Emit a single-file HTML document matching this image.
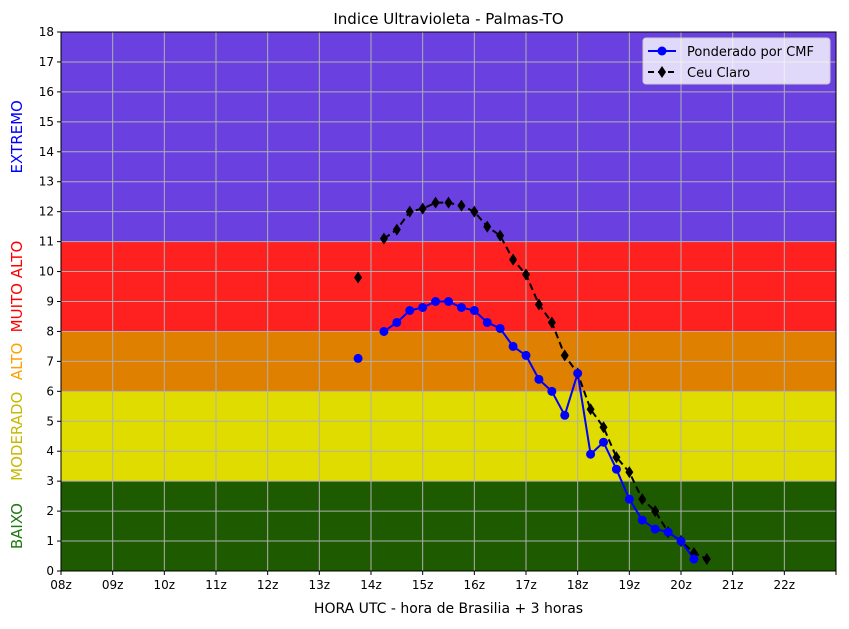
<!DOCTYPE html>
<html><head><meta charset="utf-8"><style>
body{margin:0;background:#fff;font-family:"DejaVu Sans","Liberation Sans",sans-serif;}
</style></head><body>
<svg id="c" width="849" height="625" xmlns="http://www.w3.org/2000/svg"></svg>
<script>
const hourLabels=["08z","09z","10z","11z","12z","13z","14z","15z","16z","17z","18z","19z","20z","21z","22z",""];
const yTicks=[0,1,2,3,4,5,6,7,8,9,10,11,12,13,14,15,16,17,18];
const bands=[[0,3,"#1e5a00"],[3,6,"#e0dc00"],[6,8,"#e08000"],[8,11,"#ff2020"],[11,18,"#6a40e0"]];
const bandLabels=[["BAIXO",1.5,"#1e7a10"],["MODERADO",4.5,"#c8b800"],["ALTO",7,"#ffa000"],["MUITO ALTO",9.5,"#ff0000"],["EXTREMO",14.5,"#0000ff"]];
const cmfTimes=[13.75,null,14.25,14.5,14.75,15,15.25,15.5,15.75,16,16.25,16.5,16.75,17,17.25,17.5,17.75,18,18.25,18.5,18.75,19,19.25,19.5,19.75,20,20.25];
const cmfValues=[7.1,null,8.0,8.3,8.7,8.8,9.0,9.0,8.8,8.7,8.3,8.1,7.5,7.2,6.4,6.0,5.2,6.6,3.9,4.3,3.4,2.4,1.7,1.4,1.3,1.0,0.4];
const clearTimes=[13.75,null,14.25,14.5,14.75,15,15.25,15.5,15.75,16,16.25,16.5,16.75,17,17.25,17.5,17.75,18,18.25,18.5,18.75,19,19.25,19.5,19.75,20,20.25,20.5];
const clearValues=[9.8,null,11.1,11.4,12.0,12.1,12.3,12.3,12.2,12.0,11.5,11.2,10.4,9.9,8.9,8.3,7.2,6.6,5.4,4.8,3.8,3.3,2.4,2.0,1.3,1.0,0.6,0.4];

const L=61,R=836,T=32,B=571,NS="http://www.w3.org/2000/svg";
const X=h=>L+(h-8)*(R-L)/15, Y=v=>B-v*(B-T)/18;
const svg=document.getElementById('c');
function el(t,a,txt){const e=document.createElementNS(NS,t);for(const k in a)e.setAttribute(k,a[k]);if(txt!=null)e.textContent=txt;svg.appendChild(e);return e;}

bands.forEach(b=>{const e=el('rect',{x:L,y:Y(b[1]),width:R-L,height:Y(b[0])-Y(b[1]),fill:b[2]});

});
hourLabels.forEach((l,i)=>{const x=X(8+i);
const g=el('line',{x1:x,x2:x,y1:T,y2:B,stroke:'#b0b0b0','stroke-width':1});


el('line',{x1:x,x2:x,y1:B,y2:B+4,stroke:'#000'});
const t=el('text',{x:x,y:B+18,'font-size':12,'text-anchor':'middle'},l);

});
yTicks.forEach(v=>{const y=Y(v);
const g=el('line',{x1:L,x2:R,y1:y,y2:y,stroke:'#b0b0b0','stroke-width':1});


el('line',{x1:L-4,x2:L,y1:y,y2:y,stroke:'#000'});
const t=el('text',{x:L-7,y:y+4,'font-size':12,'text-anchor':'end'},v);

});
el('rect',{x:L,y:T,width:R-L,height:B-T,fill:'none',stroke:'#000','stroke-width':1});

bandLabels.forEach(b=>{const y=Y(b[1]);
const t=el('text',{x:22,y:y,'font-size':15,fill:b[2],'text-anchor':'middle',transform:`rotate(-90 22 ${y})`},b[0]);

});

function segs(ts,vs){const out=[];let cur=[];ts.forEach((t,i)=>{if(t==null){if(cur.length)out.push(cur);cur=[];}else cur.push([X(t),Y(vs[i])]);});if(cur.length)out.push(cur);return out;}
segs(clearTimes,clearValues).forEach(s=>{if(s.length>1){const p=el('polyline',{points:s.map(q=>q.join(',')).join(' '),fill:'none',stroke:'#000','stroke-width':2,'stroke-dasharray':'7,4'});

}});
segs(cmfTimes,cmfValues).forEach(s=>{if(s.length>1){const p=el('polyline',{points:s.map(q=>q.join(',')).join(' '),fill:'none',stroke:'#0000ff','stroke-width':2});

}});
clearTimes.forEach((t,i)=>{if(t==null)return;const x=X(t),y=Y(clearValues[i]);
const p=el('polygon',{points:`${x},${y-6} ${x+4},${y} ${x},${y+6} ${x-4},${y}`,fill:'#000'});

});
cmfTimes.forEach((t,i)=>{if(t==null)return;
const c=el('circle',{cx:X(t),cy:Y(cmfValues[i]),r:4.5,fill:'#0000ff'});

});

const tt=el('text',{x:(L+R)/2,y:24,'font-size':15,'text-anchor':'middle'},'Indice Ultravioleta - Palmas-TO');


const xt=el('text',{x:(L+R)/2,y:613,'font-size':14,'text-anchor':'middle'},'HORA UTC - hora de Brasilia + 3 horas');



const lg=el('rect',{x:643,y:38,width:187,height:46,rx:3,fill:'#fff','fill-opacity':0.8,stroke:'#ccc'});


el('line',{x1:648,x2:676,y1:51,y2:51,stroke:'#0000ff','stroke-width':2});
el('circle',{cx:662,cy:51,r:4.5,fill:'#0000ff'});
const l1=el('text',{x:687,y:56,'font-size':13},'Ponderado por CMF');


el('line',{x1:648,x2:676,y1:72,y2:72,stroke:'#000','stroke-width':2,'stroke-dasharray':'6,4'});
el('polygon',{points:'662,66 666,72 662,78 658,72',fill:'#000'});
const l2=el('text',{x:687,y:77,'font-size':13},'Ceu Claro');


</script>
</body></html>
